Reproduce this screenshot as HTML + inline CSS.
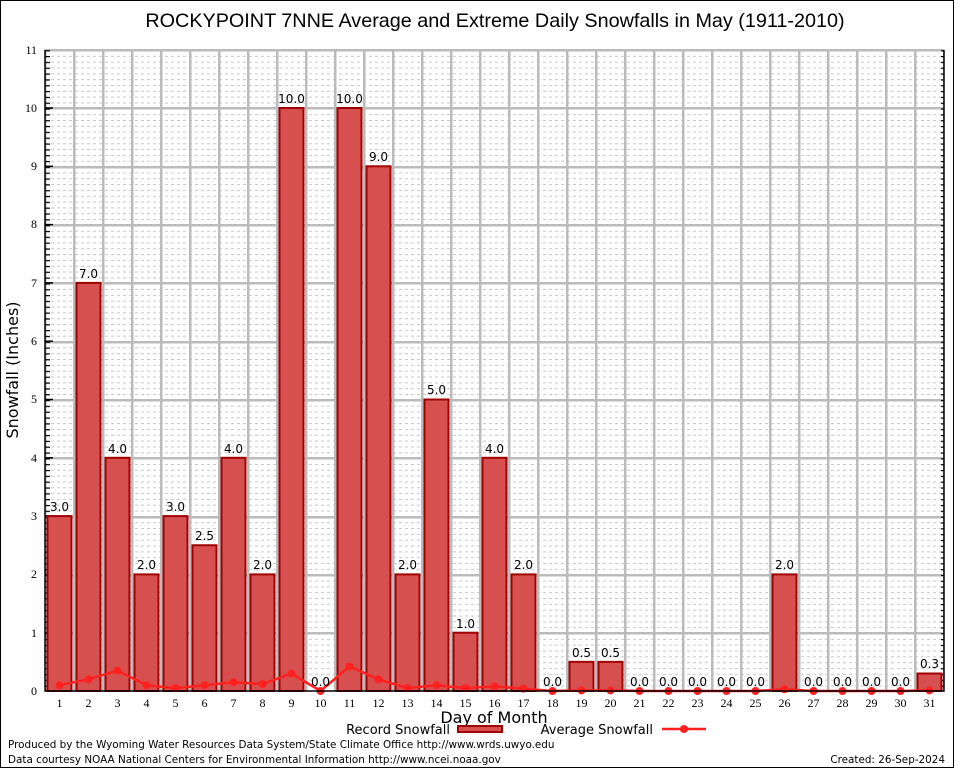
<!DOCTYPE html>
<html><head><meta charset="utf-8"><style>body{margin:0;background:#fff}svg{display:block}</style></head><body>
<svg width="954" height="768" xmlns="http://www.w3.org/2000/svg" font-family="DejaVu Sans, sans-serif">
<defs>
<pattern id="minor" x="45" y="50" width="6" height="5.83" patternUnits="userSpaceOnUse"><rect width="3" height="1" fill="#c8c8c8"/></pattern>
<pattern id="vert" x="44" y="50" width="29" height="641" patternUnits="userSpaceOnUse"><rect width="2.5" height="641" fill="#bbb"/></pattern>
<pattern id="ytk" x="45" y="50.2" width="8" height="5.83" patternUnits="userSpaceOnUse"><rect width="5" height="1.2" fill="#000"/></pattern>
</defs>
<rect x="0.5" y="0.5" width="953" height="767" fill="#fff" stroke="#000"/>
<text x="495" y="27" text-anchor="middle" font-size="19.8" font-family="Liberation Sans, sans-serif">ROCKYPOINT 7NNE Average and Extreme Daily Snowfalls in May (1911-2010)</text>
<rect x="45" y="50" width="899" height="641" fill="url(#minor)"/>
<rect x="45" y="50" width="899" height="641" fill="url(#vert)"/>
<g fill="#bbb">
<rect x="45" y="49" width="899" height="2.5"/><rect x="45" y="107" width="899" height="2.5"/><rect x="45" y="166" width="899" height="2.5"/><rect x="45" y="224" width="899" height="2.5"/><rect x="45" y="282" width="899" height="2.5"/><rect x="45" y="341" width="899" height="2.5"/><rect x="45" y="399" width="899" height="2.5"/><rect x="45" y="457" width="899" height="2.5"/><rect x="45" y="516" width="899" height="2.5"/><rect x="45" y="574" width="899" height="2.5"/><rect x="45" y="632" width="899" height="2.5"/>
</g>
<rect x="45" y="50" width="5" height="641" fill="url(#ytk)"/>
<rect x="939" y="50" width="5" height="641" fill="url(#ytk)"/>
<g stroke="#000" stroke-width="1.5">
<line x1="45" y1="108" x2="53" y2="108"/><line x1="45" y1="166.3" x2="53" y2="166.3"/><line x1="45" y1="224.6" x2="53" y2="224.6"/><line x1="45" y1="282.9" x2="53" y2="282.9"/><line x1="45" y1="341.2" x2="53" y2="341.2"/><line x1="45" y1="399.5" x2="53" y2="399.5"/><line x1="45" y1="457.8" x2="53" y2="457.8"/><line x1="45" y1="516.1" x2="53" y2="516.1"/><line x1="45" y1="574.4" x2="53" y2="574.4"/><line x1="45" y1="632.7" x2="53" y2="632.7"/>
</g>
<g fill="#d65050" stroke="#a00000" stroke-width="2">
<rect x="47.5" y="516.1" width="24" height="174.9"/>
<rect x="76.5" y="282.9" width="24" height="408.1"/>
<rect x="105.5" y="457.8" width="24" height="233.2"/>
<rect x="134.5" y="574.4" width="24" height="116.6"/>
<rect x="163.5" y="516.1" width="24" height="174.9"/>
<rect x="192.5" y="545.25" width="24" height="145.75"/>
<rect x="221.5" y="457.8" width="24" height="233.2"/>
<rect x="250.5" y="574.4" width="24" height="116.6"/>
<rect x="279.5" y="108" width="24" height="583"/>
<rect x="337.5" y="108" width="24" height="583"/>
<rect x="366.5" y="166.3" width="24" height="524.7"/>
<rect x="395.5" y="574.4" width="24" height="116.6"/>
<rect x="424.5" y="399.5" width="24" height="291.5"/>
<rect x="453.5" y="632.7" width="24" height="58.3"/>
<rect x="482.5" y="457.8" width="24" height="233.2"/>
<rect x="511.5" y="574.4" width="24" height="116.6"/>
<rect x="569.5" y="661.85" width="24" height="29.15"/>
<rect x="598.5" y="661.85" width="24" height="29.15"/>
<rect x="772.5" y="574.4" width="24" height="116.6"/>
<rect x="917.5" y="673.5" width="24" height="17.5"/>
</g>
<polyline fill="none" stroke="#ff2020" stroke-width="2.5" points="59.5,685.2 88.5,679.3 117.5,670.6 146.5,685.2 175.5,688.1 204.5,685.2 233.5,682.3 262.5,684 291.5,673.5 320.5,691 349.5,666.5 378.5,679.3 407.5,688.1 436.5,685.2 465.5,688.1 494.5,686.3 523.5,688.7 552.5,691 581.5,690.4 610.5,690.4 639.5,691 668.5,691 697.5,691 726.5,691 755.5,691 784.5,689.3 813.5,691 842.5,691 871.5,691 900.5,691 929.5,690.4"/>
<g fill="#ff2020">
<circle cx="59.5" cy="685.2" r="4"/><circle cx="88.5" cy="679.3" r="4"/><circle cx="117.5" cy="670.6" r="4"/><circle cx="146.5" cy="685.2" r="4"/><circle cx="175.5" cy="688.1" r="4"/><circle cx="204.5" cy="685.2" r="4"/><circle cx="233.5" cy="682.3" r="4"/><circle cx="262.5" cy="684" r="4"/><circle cx="291.5" cy="673.5" r="4"/><circle cx="320.5" cy="691" r="4"/><circle cx="349.5" cy="666.5" r="4"/><circle cx="378.5" cy="679.3" r="4"/><circle cx="407.5" cy="688.1" r="4"/><circle cx="436.5" cy="685.2" r="4"/><circle cx="465.5" cy="688.1" r="4"/><circle cx="494.5" cy="686.3" r="4"/><circle cx="523.5" cy="688.7" r="4"/><circle cx="552.5" cy="691" r="4"/><circle cx="581.5" cy="690.4" r="4"/><circle cx="610.5" cy="690.4" r="4"/><circle cx="639.5" cy="691" r="4"/><circle cx="668.5" cy="691" r="4"/><circle cx="697.5" cy="691" r="4"/><circle cx="726.5" cy="691" r="4"/><circle cx="755.5" cy="691" r="4"/><circle cx="784.5" cy="689.3" r="4"/><circle cx="813.5" cy="691" r="4"/><circle cx="842.5" cy="691" r="4"/><circle cx="871.5" cy="691" r="4"/><circle cx="900.5" cy="691" r="4"/><circle cx="929.5" cy="690.4" r="4"/>
</g>
<polyline fill="none" stroke="#000" stroke-width="1.5" points="45,50 45,691 944,691 944,50"/>
<g font-size="12" text-anchor="middle" fill="#000">
<text x="59.5" y="511">3.0</text><text x="88.5" y="278">7.0</text><text x="117.5" y="453">4.0</text><text x="146.5" y="569">2.0</text><text x="175.5" y="511">3.0</text><text x="204.5" y="540">2.5</text><text x="233.5" y="453">4.0</text><text x="262.5" y="569">2.0</text><text x="291.5" y="103">10.0</text><text x="320.5" y="686">0.0</text><text x="349.5" y="103">10.0</text><text x="378.5" y="161">9.0</text><text x="407.5" y="569">2.0</text><text x="436.5" y="394">5.0</text><text x="465.5" y="628">1.0</text><text x="494.5" y="453">4.0</text><text x="523.5" y="569">2.0</text><text x="552.5" y="686">0.0</text><text x="581.5" y="657">0.5</text><text x="610.5" y="657">0.5</text><text x="639.5" y="686">0.0</text><text x="668.5" y="686">0.0</text><text x="697.5" y="686">0.0</text><text x="726.5" y="686">0.0</text><text x="755.5" y="686">0.0</text><text x="784.5" y="569">2.0</text><text x="813.5" y="686">0.0</text><text x="842.5" y="686">0.0</text><text x="871.5" y="686">0.0</text><text x="900.5" y="686">0.0</text><text x="929.5" y="668">0.3</text>
</g>
<g font-family="Liberation Serif, serif" font-size="12" text-anchor="end">
<text x="37" y="695">0</text><text x="37" y="637">1</text><text x="37" y="578">2</text><text x="37" y="520">3</text><text x="37" y="462">4</text><text x="37" y="403">5</text><text x="37" y="345">6</text><text x="37" y="287">7</text><text x="37" y="228">8</text><text x="37" y="170">9</text><text x="37" y="112">10</text><text x="37" y="54">11</text>
</g>
<g font-family="Liberation Serif, serif" font-size="12" text-anchor="middle">
<text x="59.5" y="707">1</text><text x="88.5" y="707">2</text><text x="117.5" y="707">3</text><text x="146.5" y="707">4</text><text x="175.5" y="707">5</text><text x="204.5" y="707">6</text><text x="233.5" y="707">7</text><text x="262.5" y="707">8</text><text x="291.5" y="707">9</text><text x="320.5" y="707">10</text><text x="349.5" y="707">11</text><text x="378.5" y="707">12</text><text x="407.5" y="707">13</text><text x="436.5" y="707">14</text><text x="465.5" y="707">15</text><text x="494.5" y="707">16</text><text x="523.5" y="707">17</text><text x="552.5" y="707">18</text><text x="581.5" y="707">19</text><text x="610.5" y="707">20</text><text x="639.5" y="707">21</text><text x="668.5" y="707">22</text><text x="697.5" y="707">23</text><text x="726.5" y="707">24</text><text x="755.5" y="707">25</text><text x="784.5" y="707">26</text><text x="813.5" y="707">27</text><text x="842.5" y="707">28</text><text x="871.5" y="707">29</text><text x="900.5" y="707">30</text><text x="929.5" y="707">31</text>
</g>
<text x="494" y="723" text-anchor="middle" font-size="16">Day of Month</text>
<text transform="translate(18,370) rotate(-90)" text-anchor="middle" font-size="16">Snowfall (Inches)</text>
<text x="450" y="734" text-anchor="end" font-size="13">Record Snowfall</text>
<rect x="458" y="726" width="44" height="6" fill="#d65050" stroke="#a00000" stroke-width="2"/>
<text x="653" y="734" text-anchor="end" font-size="13">Average Snowfall</text>
<line x1="662" y1="729" x2="706" y2="729" stroke="#ff2020" stroke-width="2.5"/>
<circle cx="684" cy="729" r="4" fill="#ff2020"/>
<text x="8" y="748" font-size="10.4">Produced by the Wyoming Water Resources Data System/State Climate Office http://www.wrds.uwyo.edu</text>
<text x="8" y="763" font-size="10.4">Data courtesy NOAA National Centers for Environmental Information http://www.ncei.noaa.gov</text>
<text x="945" y="763" text-anchor="end" font-size="10.4">Created: 26-Sep-2024</text>
</svg>
</body></html>
